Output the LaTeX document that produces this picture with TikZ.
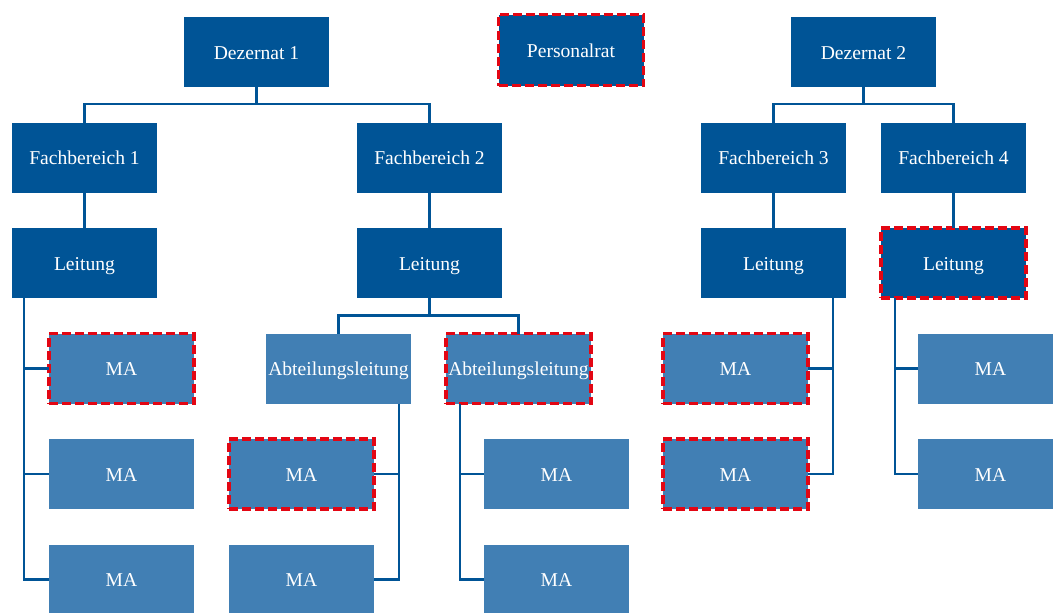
\documentclass[tikz,border=0pt]{standalone}
\usepackage{fontspec}
\setmainfont{Liberation Serif}
\usetikzlibrary{positioning}
\definecolor{uniblue}{RGB}{0,84,150}
\definecolor{lightblue}{RGB}{65,127,180}
\definecolor{prred}{RGB}{227,6,19}
\tikzset{
    box/.style = {
        minimum width=145pt,
        minimum height=70pt,
        inner sep=0pt,
        outer sep=0pt,
        text height=14pt,
        text depth=0pt,
        text=white,
        font=\fontsize{19.6}{23}\selectfont,
        },
    dark box/.style = {
        box,
        fill = uniblue,
        },
    light box/.style = {
        box,
        fill = lightblue,
        },
    pr/.style = {
        draw = prred,
        line width=3.4pt,
        dash pattern=on 9pt off 4pt,
        },
    link/.style = {
        draw = uniblue,
        line width=2.4pt,
        },
}

\begin{document}
\begin{tikzpicture}[x=1pt,y=-1pt,node distance=35.5pt]
    \useasboundingbox (0,0) rectangle (1053,613);
    \clip (0,0) rectangle (1053,613);

    % top row
    \node[dark box] (dez1) at (256.5,52) {Dezernat 1};
    \node[dark box, pr, minimum height=71pt] (pers) at (571,50) {Personalrat};
    \node[dark box] (dez2) at (863.5,52) {Dezernat 2};

    \node[dark box] (fb1) at (84.5,157.5) {Fachbereich 1};
    \node[dark box] (fb2) at (429.5,157.5) {Fachbereich 2};
    \node[dark box] (fb3) at (773.5,157.5) {Fachbereich 3};
    \node[dark box] (fb4) at (953.5,157.5) {Fachbereich 4};

    \node[dark box, below=of fb1] (lt1) {Leitung};
    \node[dark box, below=of fb2] (lt2) {Leitung};
    \node[dark box, below=of fb3] (lt3) {Leitung};
    \node[dark box, pr, below=of fb4] (lt4) {Leitung};

    % Fachbereich 1
    \node[light box, pr] (ma11) at (121.5,368.5) {MA};
    \node[light box, below=of ma11] (ma12) {MA};
    \node[light box, below=of ma12] (ma13) {MA};

    % Fachbereich 2
    \node[light box] (abt1) at (338.5,368.5) {Abteilungsleitung};
    \node[light box, pr] (abt2) at (518.5,368.5) {Abteilungsleitung};
    \node[light box, pr] (ma21) at (301.5,474) {MA};
    \node[light box, below=of ma21] (ma22) {MA};
    \node[light box] (ma23) at (556.5,474) {MA};
    \node[light box, below=of ma23] (ma24) {MA};

    % Fachbereich 3 und 4
    \node[light box, pr] (ma31) at (735.5,368.5) {MA};
    \node[light box, pr, below=of ma31] (ma32) {MA};
    \node[light box] (ma41) at (990.5,368.5) {MA};
    \node[light box, below=of ma41] (ma42) {MA};

    % connectors
    \draw[link] (dez1.south) -- ++(0,17) coordinate (d1) -| (fb1.north);
    \draw[link] (d1) -| (fb2.north);
    \draw[link] (dez2.south) -- ++(0,17) coordinate (d2) -| (fb3.north);
    \draw[link] (d2) -| (fb4.north);

    \draw[link] (fb1) -- (lt1);
    \draw[link] (fb2) -- (lt2);
    \draw[link] (fb3) -- (lt3);
    \draw[link] (fb4) -- (lt4);

    \draw[link] ([xshift=12pt]lt1.south west) |- (ma11.west);
    \draw[link] ([xshift=12pt]lt1.south west) |- (ma12.west);
    \draw[link] ([xshift=12pt]lt1.south west) |- (ma13.west);

    \draw[link] (lt2.south) -- ++(0,17.5) coordinate (l2) -| (abt1.north);
    \draw[link] (l2) -| (abt2.north);
    \draw[link] ([xshift=-12pt]abt1.south east) |- (ma21.east);
    \draw[link] ([xshift=-12pt]abt1.south east) |- (ma22.east);
    \draw[link] ([xshift=14pt]abt2.south west) |- (ma23.west);
    \draw[link] ([xshift=14pt]abt2.south west) |- (ma24.west);

    \draw[link] ([xshift=-13pt]lt3.south east) |- (ma31.east);
    \draw[link] ([xshift=-13pt]lt3.south east) |- (ma32.east);
    \draw[link] ([xshift=14pt]lt4.south west) |- (ma41.west);
    \draw[link] ([xshift=14pt]lt4.south west) |- (ma42.west);
\end{tikzpicture}
\end{document}
